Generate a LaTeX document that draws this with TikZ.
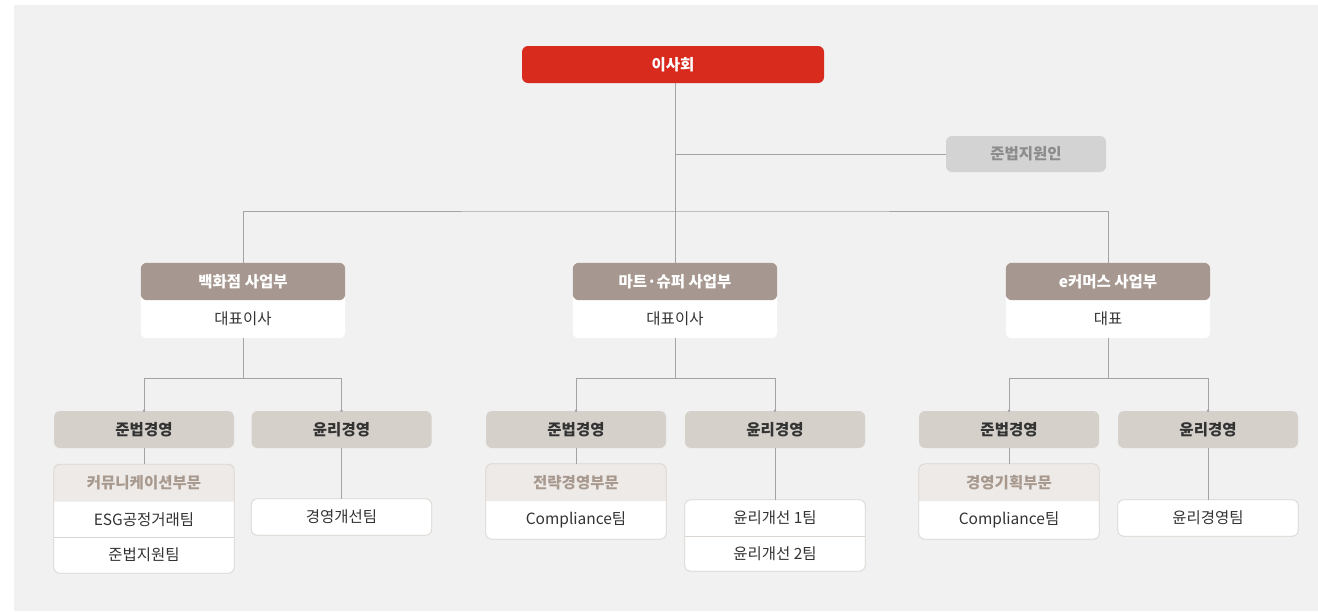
\documentclass[tikz,border=0pt]{standalone}
\usepackage{fontspec}
\setmainfont{Noto Sans CJK KR}
\usepackage{xcolor}
\usepackage{tikz}
\usetikzlibrary{positioning}
\usetikzlibrary{arrows}
\usetikzlibrary{backgrounds}
\definecolor{backcol}{HTML}{F1F1F1}
\definecolor{boardcol}{HTML}{D92A1E}
\definecolor{advcol}{HTML}{D3D3D3}
\definecolor{advtxt}{HTML}{8C8C8C}
\definecolor{deptcol}{HTML}{A69890}
\definecolor{mgmtcol}{HTML}{D5D0CA}
\definecolor{subcol}{HTML}{EEEAE7}
\definecolor{subtxt}{HTML}{A8998F}
\definecolor{cardcol}{HTML}{DAD5D0}
\definecolor{linkcol}{HTML}{A3A3A3}
\definecolor{txtcol}{HTML}{333333}
\newcommand{\cardr}{6pt}
\newcommand{\bigw}{204pt}
\newcommand{\smallw}{180pt}
\newcommand{\boxfont}{\fontsize{15.5}{18}\selectfont}
\tikzset{
	x=1pt, y=-1pt,
	boxtxt/.style={inner sep=0pt, align=center, font=\boxfont, text=txtcol},
	boardbox/.style={boxtxt, fill=boardcol, rounded corners=\cardr, minimum width=302pt, minimum height=37pt, text=white, font=\boxfont\bfseries},
	advbox/.style={boxtxt, fill=advcol, rounded corners=\cardr, minimum width=160pt, minimum height=36pt, text=advtxt, font=\boxfont\bfseries},
	depthead/.style={boxtxt, minimum width=\bigw, minimum height=37pt, text=white, font=\boxfont\bfseries},
	deptbody/.style={boxtxt, minimum width=\bigw, minimum height=38pt},
	mgmtbox/.style={boxtxt, fill=mgmtcol, rounded corners=\cardr, minimum width=\smallw, minimum height=37pt, font=\boxfont\bfseries},
	subhead/.style={boxtxt, minimum width=\smallw, minimum height=37pt, text=subtxt, font=\boxfont\bfseries},
	teambox/.style={boxtxt, minimum width=\smallw, minimum height=36pt},
	cardline/.style={draw=cardcol, line width=0.8pt},
	link/.style={draw=linkcol, line width=0.9pt},
	dropdot/.style={fill=linkcol}
}

\begin{document}
\begin{tikzpicture}
	\useasboundingbox (0,0) rectangle (1318,611);

	% top
	\node[boardbox] (board) at (673,64.5) {이사회};
	\node[advbox] (adviser) at (1026,154) {준법지원인};

	% divisions
	\node[depthead] (bdept) at (243,281.5) {백화점 사업부};
	\node[deptbody] (bceo) at (243,319) {대표이사};
	\node[depthead] (mdept) at (675,281.5) {마트·슈퍼 사업부};
	\node[deptbody] (mceo) at (675,319) {대표이사};
	\node[depthead] (edept) at (1108,281.5) {e커머스 사업부};
	\node[deptbody] (eceo) at (1108,319) {대표};

	% 백화점
	\node[mgmtbox] (bcomp) at (144,429.5) {준법경영};
	\node[mgmtbox] (beth) at (341.5,429.5) {윤리경영};
	\node[subhead] (bcomm) at (144,483) {커뮤니케이션부문};
	\node[teambox, minimum height=35pt] (besg) at (144,519.5) {ESG공정거래팀};
	\node[teambox] (blegal) at (144,555) {준법지원팀};
	\node[teambox] (bimpr) at (341.5,517) {경영개선팀};

	% 마트·슈퍼
	\node[mgmtbox] (mcomp) at (576,429.5) {준법경영};
	\node[mgmtbox] (meth) at (775,429.5) {윤리경영};
	\node[subhead] (mstrat) at (576,482.5) {전략경영부문};
	\node[teambox, minimum height=38pt] (mcompl) at (576,520) {Compliance팀};
	\node[teambox] (meth1) at (775,518) {윤리개선 1팀};
	\node[teambox, minimum height=35pt] (meth2) at (775,553.5) {윤리개선 2팀};

	% e커머스
	\node[mgmtbox] (ecomp) at (1009,429.5) {준법경영};
	\node[mgmtbox] (eeth) at (1208,429.5) {윤리경영};
	\node[subhead] (eplan) at (1009,482.5) {경영기획부문};
	\node[teambox, minimum height=38pt] (ecompl) at (1009,520) {Compliance팀};
	\node[teambox] (eteam) at (1208,518) {윤리경영팀};

	\begin{scope}[on background layer]
		\fill[backcol] (14,5) rectangle (1318,611);
		% division cards
		\foreach \hd/\bd in {bdept/bceo, mdept/mceo, edept/eceo}{
			\fill[white, rounded corners=\cardr] (\hd.north west) rectangle (\bd.south east);
			\fill[deptcol, rounded corners=\cardr] (\hd.north west) rectangle (\hd.south east);
		}
		% cards with a sub-heading
		\foreach \hd/\bd in {bcomm/blegal, mstrat/mcompl, eplan/ecompl}{
			\fill[white, rounded corners=\cardr] (\hd.north west) rectangle (\bd.south east);
			\fill[subcol] (\hd.south west) [rounded corners=\cardr] -- (\hd.north west) -- (\hd.north east) [sharp corners] -- (\hd.south east) -- cycle;
			\draw[cardline, rounded corners=\cardr] (\hd.north west) rectangle (\bd.south east);
		}
		% team cards
		\foreach \tp/\bt in {bimpr/bimpr, meth1/meth2, eteam/eteam}{
			\filldraw[cardline, fill=white, rounded corners=\cardr] (\tp.north west) rectangle (\bt.south east);
		}
		\draw[cardline] (besg.south west) -- (besg.south east);
		\draw[cardline] (meth1.south west) -- (meth1.south east);
	\end{scope}

	% links
	\coordinate (topbus) at (675,211);
	\draw[link] (board.south -| mdept) -- (mdept);
	\draw[link] (mdept |- adviser) -- (adviser.west);
	\draw[link] (bdept.north) |- (topbus) -| (edept.north);

	\coordinate (bbus) at (243,378);
	\coordinate (mbus) at (675,378);
	\coordinate (ebus) at (1108,378);
	\draw[link] (bceo) -- (bbus);
	\draw[link] (mceo) -- (mbus);
	\draw[link] (eceo) -- (ebus);
	\foreach \bus/\lt/\rt in {bbus/bcomp/beth, mbus/mcomp/meth, ebus/ecomp/eeth}{
		\draw[link] (\bus) -| (\lt.north);
		\draw[link] (\bus) -| (\rt.north);
		\fill[dropdot] (\lt.north) circle (1.4pt);
		\fill[dropdot] (\rt.north) circle (1.4pt);
	}

	\draw[link] (bcomp) -- (bcomm);
	\draw[link] (beth) -- (bimpr);
	\draw[link] (mcomp) -- (mstrat);
	\draw[link] (meth) -- (meth1);
	\draw[link] (ecomp) -- (eplan);
	\draw[link] (eeth) -- (eteam);
\end{tikzpicture}
\end{document}
